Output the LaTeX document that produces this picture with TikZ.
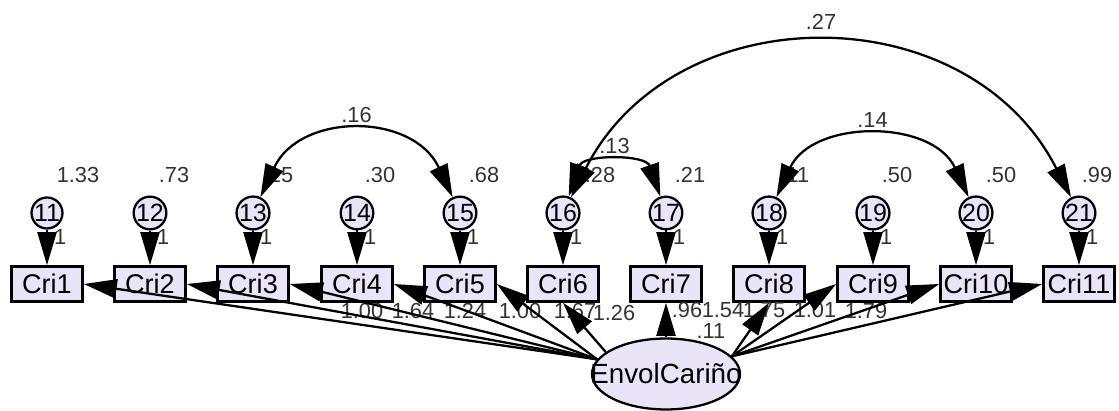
\documentclass[tikz,border=0pt]{standalone}
\usepackage{fontspec}
\setmainfont{Liberation Sans}
\usetikzlibrary{arrows.meta,shapes.geometric}
\definecolor{amosfill}{RGB}{233,228,247}
\begin{document}
    \begin{tikzpicture}[x=0.02cm,y=-0.02cm,
        >={Triangle[length=0.66cm,width=0.38cm]},
        obs/.style={draw,line width=1.5pt,fill=amosfill,minimum width=1.42cm,minimum height=0.7cm,inner sep=0pt,font=\fontsize{15.4}{17}\selectfont},
        err/.style={circle,draw,line width=1.3pt,fill=amosfill,minimum size=0.62cm,inner sep=0pt,font=\fontsize{14.2}{15}\selectfont},
        lat/.style={ellipse,draw,line width=1.3pt,fill=amosfill,minimum width=2.96cm,minimum height=1.42cm},
        num/.style={inner sep=0pt,text=black!80,font=\fontsize{12.4}{14}\selectfont},
        reg/.style={->,line width=1.3pt},
        cov/.style={<->,line width=1.3pt}]
        \useasboundingbox (0,0) rectangle (1119,411);
        \node[obs] (cri1) at (47,284) {Cri1};
        \node[obs] (cri2) at (150,284) {Cri2};
        \node[obs] (cri3) at (253,284) {Cri3};
        \node[obs] (cri4) at (357,284) {Cri4};
        \node[obs] (cri5) at (460,284) {Cri5};
        \node[obs] (cri6) at (563,284) {Cri6};
        \node[obs] (cri7) at (666,284) {Cri7};
        \node[obs] (cri8) at (769,284) {Cri8};
        \node[obs] (cri9) at (873,284) {Cri9};
        \node[obs] (cri10) at (976,284) {Cri10};
        \node[obs] (cri11) at (1079,284) {Cri11};
        \node[err] (e11) at (47,213) {11};
        \node[err] (e12) at (150,213) {12};
        \node[err] (e13) at (253,213) {13};
        \node[err] (e14) at (357,213) {14};
        \node[err] (e15) at (460,213) {15};
        \node[err] (e16) at (563,213) {16};
        \node[err] (e17) at (666,213) {17};
        \node[err] (e18) at (769,213) {18};
        \node[err] (e19) at (873,213) {19};
        \node[err] (e20) at (976,213) {20};
        \node[err] (e21) at (1079,213) {21};
        \node[lat] (env) at (666,374) {};
        \node[inner sep=0pt,font=\fontsize{15.8}{17}\selectfont] (envtxt) at (env.center) {EnvolCariño};
        \node[num] (v11) at (78,175) {1.33};
        \node[num] (v12) at (174,175) {.73};
        \node[num] (v13) at (278,175) {.15};
        \node[num] (v14) at (380,175) {.30};
        \node[num] (v15) at (484,175) {.68};
        \node[num] (v16) at (600,175) {.28};
        \node[num] (v17) at (690,175) {.21};
        \node[num] (v18) at (795,175) {.11};
        \node[num] (v19) at (897,175) {.50};
        \node[num] (v20) at (1001,175) {.50};
        \node[num] (v21) at (1097,175) {.99};
        \node[num] (v0) at (711,331) {.11};
        \node[num] (l1) at (362,311) {1.00};
        \node[num] (l2) at (413,311) {1.64};
        \node[num] (l3) at (465,311) {1.24};
        \node[num] (l4) at (520,311) {1.00};
        \node[num] (l5) at (575,311) {1.67};
        \node[num] (l6) at (614,313) {1.26};
        \node[num] (l7) at (687,310) {.96};
        \node[num] (l8) at (723,310) {1.54};
        \node[num] (l9) at (764,310) {1.75};
        \node[num] (l10) at (815,310) {1.01};
        \node[num] (l11) at (866,311) {1.79};
        \draw[reg] (e11) -- node[num,pos=0.2,right=0.12cm] (w11) {1} (cri1);
        \draw[reg] (e12) -- node[num,pos=0.2,right=0.12cm] (w12) {1} (cri2);
        \draw[reg] (e13) -- node[num,pos=0.2,right=0.12cm] (w13) {1} (cri3);
        \draw[reg] (e14) -- node[num,pos=0.2,right=0.12cm] (w14) {1} (cri4);
        \draw[reg] (e15) -- node[num,pos=0.2,right=0.12cm] (w15) {1} (cri5);
        \draw[reg] (e16) -- node[num,pos=0.2,right=0.12cm] (w16) {1} (cri6);
        \draw[reg] (e17) -- node[num,pos=0.2,right=0.12cm] (w17) {1} (cri7);
        \draw[reg] (e18) -- node[num,pos=0.2,right=0.12cm] (w18) {1} (cri8);
        \draw[reg] (e19) -- node[num,pos=0.2,right=0.12cm] (w19) {1} (cri9);
        \draw[reg] (e20) -- node[num,pos=0.2,right=0.12cm] (w20) {1} (cri10);
        \draw[reg] (e21) -- node[num,pos=0.2,right=0.12cm] (w21) {1} (cri11);
        \draw[reg] (env.168) -- (cri1.east);
        \draw[reg] (env.168) -- (cri2.east);
        \draw[reg] (env.168) -- (cri3.east);
        \draw[reg] (env.168) -- (cri4.east);
        \draw[reg] (env.168) -- (cri5.east);
        \draw[reg] (env.160) -- (cri6.south);
        \draw[reg] (env) -- (cri7);
        \draw[reg] (env.15) -- (cri8.south);
        \draw[reg] (env.15) -- (cri9.west);
        \draw[reg] (env.15) -- (cri10.west);
        \draw[reg] (env.15) -- (cri11.west);
        \draw[cov] (e13) to[out=65,in=115,looseness=1.25] node[num,above=0.2cm] (c1) {.16} (e15);
        \draw[cov] (e16) to[out=71,in=109,looseness=1.25] node[num,above=0.2cm] (c2) {.13} (e17);
        \draw[cov] (e18) to[out=65,in=115,looseness=1.15] node[num,above=0.2cm] (c3) {.14} (e20);
        \draw[cov] (e16) to[out=63,in=117,looseness=1.17] node[num,above=0.28cm] (c4) {.27} (e21);
    \end{tikzpicture}
\end{document}
